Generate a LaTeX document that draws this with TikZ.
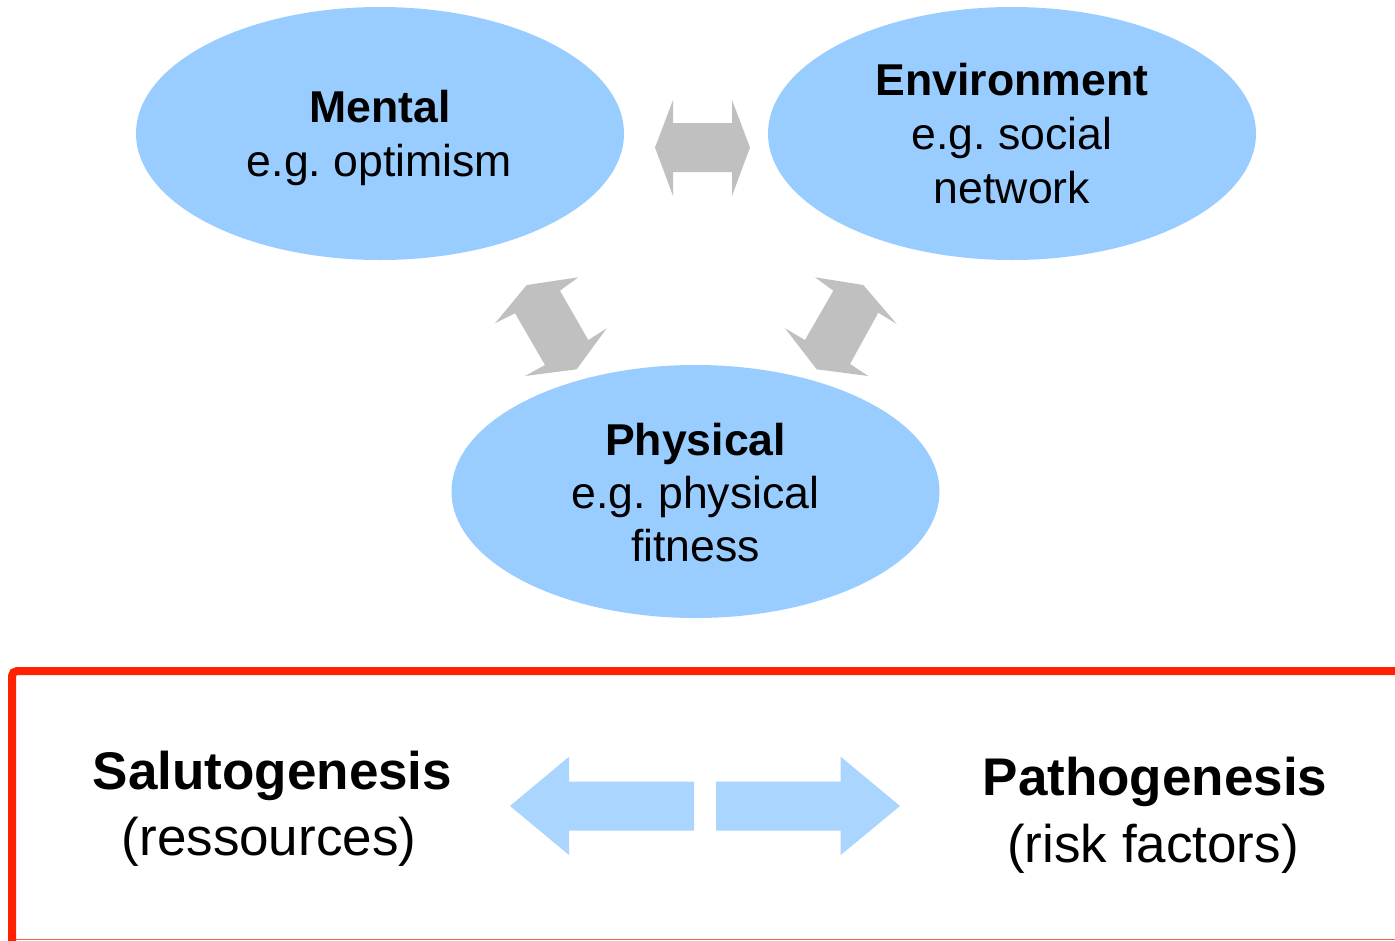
\documentclass[tikz,border=0pt]{standalone}
\usepackage{fontspec}
\setmainfont{Liberation Sans}
\usetikzlibrary{shapes.geometric}
\definecolor{ellblue}{HTML}{99CCFF}
\definecolor{arrblue}{HTML}{AAD5FF}
\definecolor{arrgray}{HTML}{C0C0C0}
\definecolor{boxred}{HTML}{FF2200}
\definecolor{edgered}{HTML}{E8604F}
\tikzset{
  bubble/.style={ellipse, fill=ellblue, draw=none, minimum width=488pt, minimum height=253pt, inner sep=0pt},
  txt/.style={anchor=base, inner sep=0pt, font=\fontsize{44.6}{54}\selectfont},
  btxt/.style={txt, font=\fontsize{44.6}{54}\selectfont\bfseries},
  big/.style={anchor=base, inner sep=0pt, font=\fontsize{53}{60}\selectfont},
  bigb/.style={big, font=\fontsize{53}{60}\selectfont\bfseries},
  grayarrow/.style={fill=arrgray, draw=none},
  bluearrow/.style={fill=arrblue, draw=none},
}
\begin{document}
\frenchspacing
\begin{tikzpicture}[x=1pt, y=-1pt]
\useasboundingbox (0,0) rectangle (1395,940);
% ellipses
\node[bubble] (mental) at (380,133.5) {};
\node[bubble] (env) at (1012,133.5) {};
\node[bubble] (phys) at (695.5,491.5) {};
% texts
\node[btxt] (t1) at (380,122.7) {Mental};
\node[txt] (t2) at (379.5,176.7) {e.g. optimism};
\node[btxt] (t3) at (1012,95.7) {Environment};
\node[txt] (t4) at (1012,149.3) {e.g. social};
\node[txt] (t5) at (1012,203.3) {network};
\node[btxt] (t6) at (695.5,455) {Physical};
\node[txt] (t7) at (695.5,508.3) {e.g. physical};
\node[txt] (t8) at (695.5,561.7) {fitness};
% gray double arrows
\fill[grayarrow] (655,147.5) -- (673,100) -- (673,123) -- (732,123) -- (732,100) -- (750,147.5) -- (732,196) -- (732,172) -- (673,172) -- (673,196) -- cycle;
\fill[grayarrow] (495,323.3) -- (526.7,285) -- (578.3,277.3) -- (560,290.7) -- (588.3,340) -- (606.7,328.3) -- (576.7,369.3) -- (525,376) -- (545,365) -- (515,313.3) -- cycle;
\fill[grayarrow] (815,277.3) -- (863.3,285) -- (896.7,324) -- (878.3,312.7) -- (850,364) -- (868.3,376) -- (816.7,369.3) -- (785,328.3) -- (805,340) -- (833.3,290.7) -- cycle;
% red frame
\draw[boxred, line width=8pt, rounded corners=5pt] (12,945) -- (12,671) -- (1400,671);
\draw[edgered, line width=1.5pt] (16,939.3) -- (1395,939.3);
% bottom texts
\node[bigb] (sal) at (272.5,789.3) {Salutogenesis};
\node[big] (res) at (269,855) {(ressources)};
\node[bigb] (pat) at (1155,795) {Pathogenesis};
\node[big] (risk) at (1153,862) {(risk factors)};
% blue arrows
\fill[bluearrow] (510,806) -- (569,756.7) -- (569,781.7) -- (694,781.7) -- (694,830.7) -- (569,830.7) -- (569,855) -- cycle;
\fill[bluearrow] (900,806) -- (840.7,756.7) -- (840.7,781.7) -- (716,781.7) -- (716,830.7) -- (840.7,830.7) -- (840.7,855) -- cycle;
\end{tikzpicture}
\end{document}
